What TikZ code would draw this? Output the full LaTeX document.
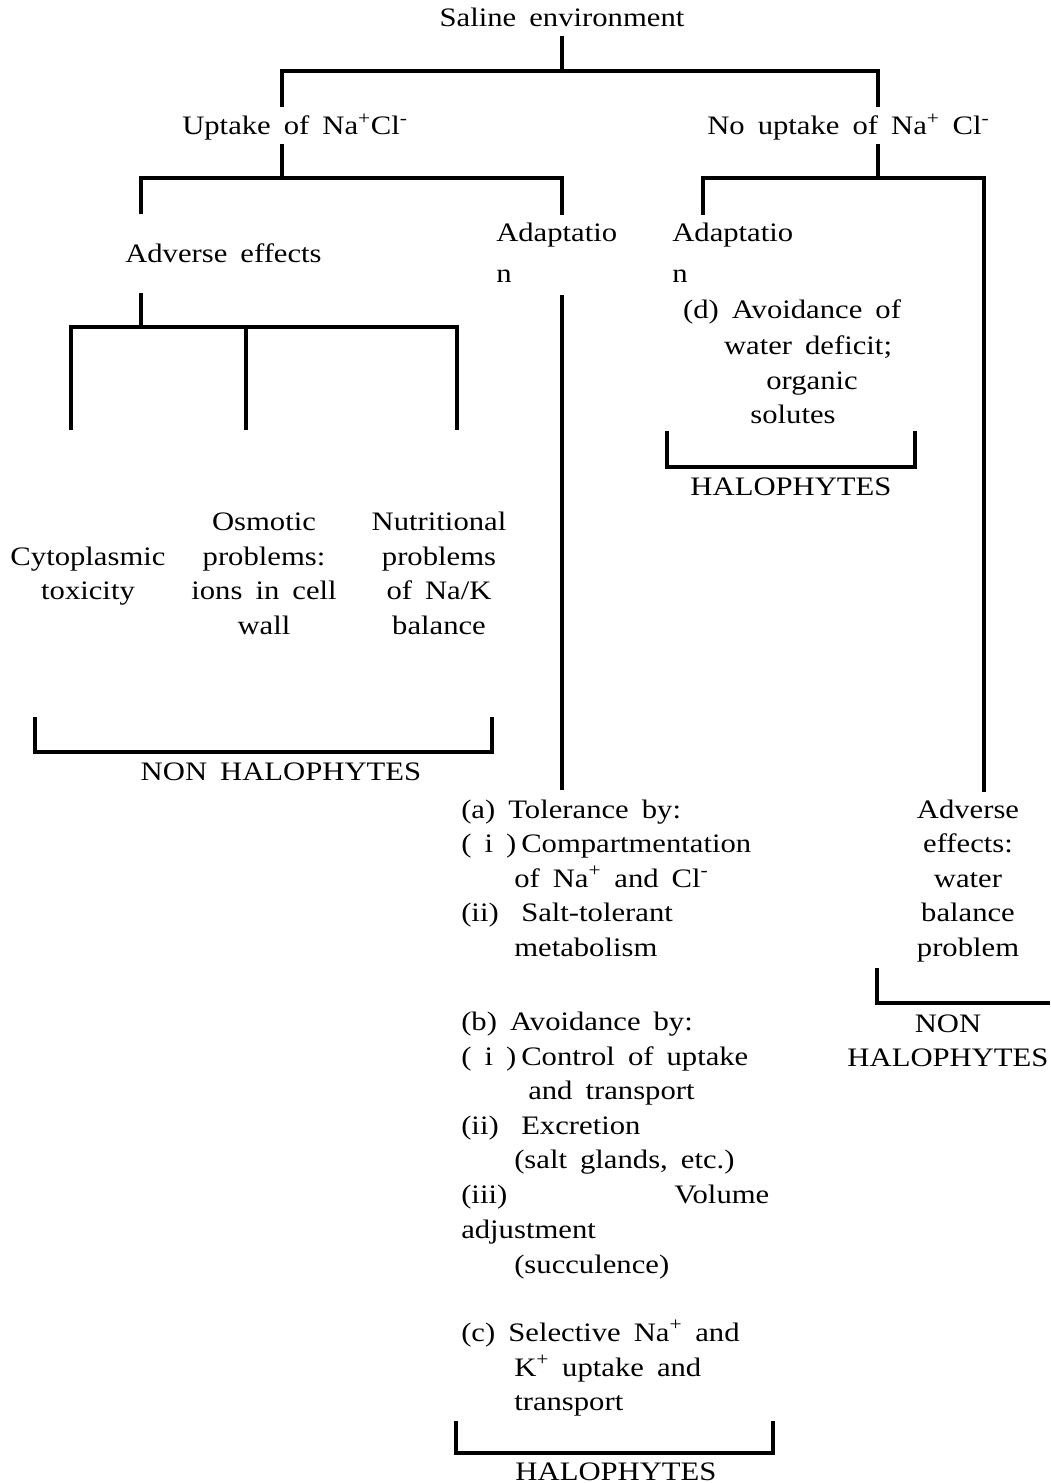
\documentclass[tikz,border=0pt]{standalone}
\usepackage{fontspec}
\setmainfont{Liberation Serif}[FakeStretch=1.15,WordSpace=1.7]
\newcommand{\ionp}{\textsuperscript{+}}
\newcommand{\ionm}{\textsuperscript{-}}
\newcommand{\itemlbl}[1]{\makebox[45pt][l]{#1}}
\tikzset{
  lbl/.style={inner sep=0pt, font=\fontsize{20}{26}\selectfont},
  branch/.style={line width=2.6pt},
}
\begin{document}
\begin{tikzpicture}[x=0.75pt,y=-0.75pt]
\useasboundingbox (0,0) rectangle (1050,1483);
% headings
\node[lbl,anchor=base] (saline) at (562,27) {Saline environment};
\node[lbl,anchor=base west] (uptake) at (182,135) {Uptake of Na\ionp Cl\ionm};
\node[lbl,anchor=base west] (noupt) at (707,135) {No uptake of Na\ionp{} Cl\ionm};
\node[lbl,anchor=base west] (adv) at (125,263) {Adverse effects};
\node[lbl,anchor=base west] (adaptL) at (496,242) {Adaptatio};
\node[lbl,anchor=base west] (adaptLn) at (496,283) {n};
\node[lbl,anchor=base west] (adaptR) at (672,242) {Adaptatio};
\node[lbl,anchor=base west] (adaptRn) at (672,283) {n};
% adverse effects, left
\node[lbl,anchor=base] (cyto1) at (88,565) {Cytoplasmic};
\node[lbl,anchor=base] (cyto2) at (88,599) {toxicity};
\node[lbl,anchor=base] (osmo1) at (264,530) {Osmotic};
\node[lbl,anchor=base] (osmo2) at (264,565) {problems:};
\node[lbl,anchor=base] (osmo3) at (264,599) {ions in cell};
\node[lbl,anchor=base] (osmo4) at (264,634) {wall};
\node[lbl,anchor=base] (nutri1) at (439,530) {Nutritional};
\node[lbl,anchor=base] (nutri2) at (439,565) {problems};
\node[lbl,anchor=base] (nutri3) at (439,599) {of Na/K};
\node[lbl,anchor=base] (nutri4) at (439,634) {balance};
\node[lbl,anchor=base] (nonhalo) at (281,780) {NON HALOPHYTES};
% (d) block
\node[lbl,anchor=base] (avd1) at (792,319) {(d) Avoidance of};
\node[lbl,anchor=base] (avd2) at (808,354) {water deficit;};
\node[lbl,anchor=base] (avd3) at (812,389) {organic};
\node[lbl,anchor=base] (avd4) at (793,423) {solutes};
\node[lbl,anchor=base] (halod) at (791,495) {HALOPHYTES};
% tolerance / avoidance list
\node[lbl,anchor=base west] (tol1) at (461,818) {(a) Tolerance by:};
\node[lbl,anchor=base west] (tol2) at (461,852) {\itemlbl{( i )}Compartmentation};
\node[lbl,anchor=base west] (tol3) at (514,887) {of Na\ionp{} and Cl\ionm};
\node[lbl,anchor=base west] (tol4) at (461,921) {\itemlbl{(ii)}Salt-tolerant};
\node[lbl,anchor=base west] (tol5) at (514,956) {metabolism};
\node[lbl,anchor=base west] (avo1) at (461,1030) {(b) Avoidance by:};
\node[lbl,anchor=base west] (avo2) at (461,1065) {\itemlbl{( i )}Control of uptake};
\node[lbl,anchor=base west] (avo3) at (528,1099) {and transport};
\node[lbl,anchor=base west] (avo4) at (461,1134) {\itemlbl{(ii)}Excretion};
\node[lbl,anchor=base west] (avo5) at (514,1168) {(salt glands, etc.)};
\node[lbl,anchor=base west] (avo6) at (461,1203) {\makebox[231pt][s]{(iii) Volume}};
\node[lbl,anchor=base west] (avo7) at (461,1238) {adjustment};
\node[lbl,anchor=base west] (avo8) at (514,1273) {(succulence)};
\node[lbl,anchor=base west] (sel1) at (461,1341) {(c) Selective Na\ionp{} and};
\node[lbl,anchor=base west] (sel2) at (514,1376) {K\ionp{} uptake and};
\node[lbl,anchor=base west] (sel3) at (514,1410) {transport};
\node[lbl,anchor=base] (halob) at (616,1480) {HALOPHYTES};
% adverse effects, right
\node[lbl,anchor=base] (wat1) at (968,818) {Adverse};
\node[lbl,anchor=base] (wat2) at (968,852) {effects:};
\node[lbl,anchor=base] (wat3) at (968,887) {water};
\node[lbl,anchor=base] (wat4) at (968,921) {balance};
\node[lbl,anchor=base] (wat5) at (968,956) {problem};
\node[lbl,anchor=base] (nonr1) at (948,1032) {NON};
\node[lbl,anchor=base] (nonr2) at (948,1066) {HALOPHYTES};
% joints
\coordinate (saline-s) at (562,36);
\coordinate (bus-a) at (562,71);
\coordinate (uptake-n) at (282,107);
\coordinate (noupt-n) at (878,107);
\coordinate (uptake-s) at (282,144);
\coordinate (bus-b) at (282,178);
\coordinate (adv-n) at (141,214);
\coordinate (adaptL-n) at (562,215);
\coordinate (noupt-s) at (878,144);
\coordinate (bus-c) at (878,178);
\coordinate (adaptR-n) at (703,215);
\coordinate (wat-n) at (984,792);
\coordinate (adv-s) at (141,293);
\coordinate (bus-d) at (141,327);
\coordinate (cyto-n) at (71,430);
\coordinate (osmo-n) at (246,430);
\coordinate (nutri-n) at (457,430);
\coordinate (adaptL-s) at (562,295);
\coordinate (tol-n) at (562,790);
% tree
\draw[branch] (saline-s) -- (bus-a);
\draw[branch] (uptake-n) |- (bus-a) -| (noupt-n);
\draw[branch] (uptake-s) -- (bus-b);
\draw[branch] (adv-n) |- (bus-b) -| (adaptL-n);
\draw[branch] (noupt-s) -- (bus-c);
\draw[branch] (adaptR-n) |- (bus-c) -| (wat-n);
\draw[branch] (adv-s) -- (bus-d);
\draw[branch] (cyto-n) |- (bus-d) -| (nutri-n);
\draw[branch] (osmo-n) -- (osmo-n |- bus-d);
\draw[branch] (adaptL-s) -- (tol-n);
% brackets
\draw[branch] (35,717) |- (492,752) -- (492,717);
\draw[branch] (667,431) |- (915,467) -- (915,431);
\draw[branch] (456,1421) |- (773,1453) -- (773,1421);
\draw[branch] (877,968) |- (1050,1003);
\end{tikzpicture}
\end{document}
